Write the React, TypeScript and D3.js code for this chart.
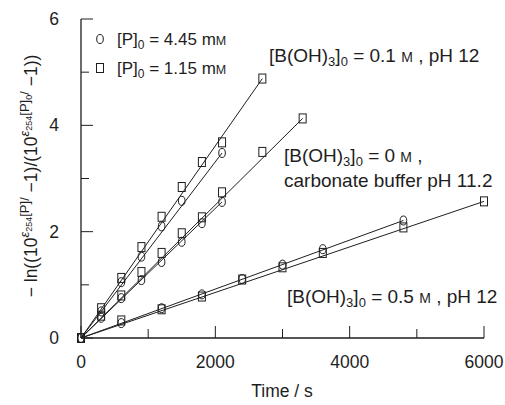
import React from "react";
import * as d3 from "d3";

// ---- data (time / s, -ln(...) values) ----
const tA = [0, 300, 600, 900, 1200, 1500, 1800, 2100, 2700]; // 0.1 M, squares
const yA = [0, 0.56, 1.13, 1.71, 2.28, 2.84, 3.31, 3.68, 4.88];
const tB = [0, 300, 600, 900, 1200, 1500, 2100]; // 0.1 M, circles
const yB = [0, 0.5, 1.05, 1.53, 2.1, 2.58, 3.48];
const tC = [0, 300, 600, 900, 1200, 1500, 1800, 2100, 2700, 3300]; // carbonate, squares
const yC = [0, 0.42, 0.8, 1.24, 1.6, 1.97, 2.27, 2.74, 3.5, 4.13];
const tD = [0, 300, 600, 900, 1200, 1500, 1800, 2100]; // carbonate, circles
const yD = [0, 0.38, 0.75, 1.09, 1.43, 1.81, 2.16, 2.56];
const tE = [0, 600, 1200, 1800, 2400, 3000, 3600, 4800, 6000]; // 0.5 M, squares
const yE = [0, 0.33, 0.54, 0.78, 1.1, 1.33, 1.6, 2.08, 2.57];
const tF = [0, 600, 1200, 1800, 2400, 3000, 3600, 4800]; // 0.5 M, circles
const yF = [0, 0.28, 0.56, 0.82, 1.11, 1.38, 1.67, 2.21];

const xTicks = [0, 1000, 2000, 3000, 4000, 5000, 6000];
const xLabels = [0, 2000, 4000, 6000];
const yTicks = [0, 1, 2, 3, 4, 5, 6];
const yLabels = [0, 2, 4, 6];

type S = { t: number[]; y: number[]; marker: "sq" | "ci" };
const series: S[] = [
  { t: tA, y: yA, marker: "sq" },
  { t: tB, y: yB, marker: "ci" },
  { t: tC, y: yC, marker: "sq" },
  { t: tD, y: yD, marker: "ci" },
  { t: tE, y: yE, marker: "sq" },
  { t: tF, y: yF, marker: "ci" },
];

const INK = "#1e1e1e";
const FONT = "'Liberation Sans', Arial, Helvetica, sans-serif";
const ANN = 19;
const SUB = 13;
const SM = 14;

function Marker({ x, y, kind }: { x: number; y: number; kind: "sq" | "ci" }) {
  if (kind === "sq")
    return <rect x={x - 3.5} y={y - 4.5} width={7} height={9} fill="none" stroke={INK} strokeWidth={1} />;
  return <ellipse cx={x} cy={y} rx={3.3} ry={4.5} fill="none" stroke={INK} strokeWidth={1} />;
}

function BLabel({ x, y, val, tail }: { x: number; y: number; val: string; tail: string }) {
  return (
    <text x={x} y={y} fontSize={ANN}>
      [B(OH)<tspan dy={4} fontSize={SUB}>3</tspan>
      <tspan dy={-4}>]</tspan>
      <tspan dy={4} fontSize={SUB}>0</tspan>
      <tspan dy={-4}>{` = ${val} `}</tspan>
      <tspan fontSize={SM}>M</tspan>
      <tspan>{tail}</tspan>
    </text>
  );
}

export default function App() {
  const x = d3.scaleLinear().domain([0, 6000]).range([81, 484]);
  const y = d3.scaleLinear().domain([0, 6]).range([338, 19]);
  const line = d3
    .line<[number, number]>()
    .x((d) => x(d[0]))
    .y((d) => y(d[1]));

  return (
    <svg
      width={505}
      height={405}
      style={{ position: "absolute", left: 0, top: 0, background: "#fff" }}
      fontFamily={FONT}
      fill={INK}
    >
      {/* fit lines (origin to last point) */}
      {series.map((s, i) => {
        const n = s.t.length - 1;
        return (
          <path
            key={"l" + i}
            d={line([[0, 0], [s.t[n], s.y[n]]]) || ""}
            fill="none"
            stroke={INK}
            strokeWidth={1}
          />
        );
      })}
      {/* markers */}
      {series.map((s, i) =>
        s.t.map((t, j) => <Marker key={`m${i}-${j}`} x={x(t)} y={y(s.y[j])} kind={s.marker} />)
      )}

      {/* axes */}
      <line x1={x(0)} x2={x(6000)} y1={y(0)} y2={y(0)} stroke={INK} strokeWidth={1.3} />
      <line x1={x(0)} x2={x(0)} y1={y(0)} y2={y(6)} stroke={INK} strokeWidth={1.3} />
      {xTicks.map((t) => {
        const major = xLabels.includes(t);
        return (
          <line key={"xt" + t} x1={x(t)} x2={x(t)} y1={y(0)} y2={y(0) - (major ? 12 : 9)} stroke={INK} strokeWidth={1} />
        );
      })}
      {yTicks.map((t) => {
        const major = yLabels.includes(t);
        return (
          <line key={"yt" + t} x1={x(0)} x2={x(0) + (major ? 12 : 8)} y1={y(t)} y2={y(t)} stroke={INK} strokeWidth={1} />
        );
      })}
      {xLabels.map((t) => (
        <text key={"xl" + t} x={x(t)} y={368} textAnchor="middle" fontSize={17.5}>
          {t}
        </text>
      ))}
      {yLabels.map((t) => (
        <text key={"yl" + t} x={59} y={y(t) + 6} textAnchor="end" fontSize={17.5}>
          {t}
        </text>
      ))}
      <text x={282} y={397} textAnchor="middle" fontSize={17.5}>
        Time / s
      </text>

      {/* y axis label */}
      <text transform="translate(37,176) rotate(-90)" textAnchor="middle" fontSize={17.5}>
        {"\u2212 ln((10"}
        <tspan dy={-8} fontSize={13} fontStyle="italic">ε</tspan>
        <tspan dy={3} fontSize={9}>254</tspan>
        <tspan dy={-3} fontSize={13}>[P]/</tspan>
        <tspan dy={8}>{" \u22121)/(10"}</tspan>
        <tspan dy={-8} fontSize={13} fontStyle="italic">ε</tspan>
        <tspan dy={3} fontSize={9}>254</tspan>
        <tspan dy={-3} fontSize={13}>[P]</tspan>
        <tspan dy={3} fontSize={9}>0</tspan>
        <tspan dy={-3} fontSize={13}>/</tspan>
        <tspan dy={8}>{" \u22121))"}</tspan>
      </text>

      {/* legend */}
      <Marker x={100} y={39} kind="ci" />
      <Marker x={100} y={68} kind="sq" />
      <text x={117} y={45} fontSize={17}>
        [P]<tspan dy={4} fontSize={12}>0</tspan>
        <tspan dy={-4}>{" = 4.45 m"}</tspan>
        <tspan fontSize={12.5}>M</tspan>
      </text>
      <text x={117} y={74} fontSize={17}>
        [P]<tspan dy={4} fontSize={12}>0</tspan>
        <tspan dy={-4}>{" = 1.15 m"}</tspan>
        <tspan fontSize={12.5}>M</tspan>
      </text>

      {/* annotations */}
      <BLabel x={269} y={62} val="0.1" tail=" , pH 12" />
      <BLabel x={284} y={162} val="0" tail=" ," />
      <text x={284} y={187} fontSize={ANN}>
        carbonate buffer pH 11.2
      </text>
      <BLabel x={287} y={303} val="0.5" tail=" , pH 12" />
    </svg>
  );
}
